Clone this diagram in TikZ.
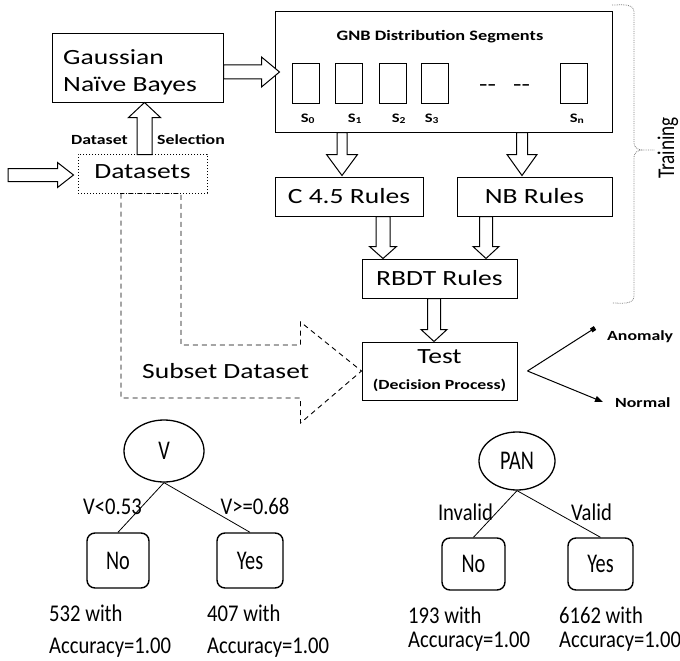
\documentclass[tikz,border=0pt]{standalone}
\usepackage{fontspec}
\setmainfont{Carlito}
\newfontfamily\topf[FakeStretch=1.27]{Carlito}
\newfontfamily\treef[FakeStretch=0.75]{Carlito}
\newfontfamily\treelab[FakeStretch=0.86]{Carlito}
\newfontfamily\trainf[FakeStretch=0.8]{Carlito}
\usetikzlibrary{calc,arrows.meta,shapes.geometric}
\tikzset{
  box/.style={draw, line width=1pt, inner sep=0pt, font=\topf\fontsize{21.7}{26}\selectfont},
  bigtxt/.style={inner sep=0pt, font=\topf\fontsize{21.7}{28}\selectfont},
  smallbold/.style={inner sep=0pt, font=\topf\bfseries\fontsize{14}{17}\selectfont},
  seg/.style={draw, line width=1pt, minimum width=27, minimum height=39, inner sep=0pt},
  seglab/.style={inner sep=0pt, anchor=base, font=\topf\bfseries\fontsize{13}{15}\selectfont},
  blk/.style={draw, line width=1pt, fill=white, line join=miter},
  downblk/.style n args={3}{to path={let \p1=(\tikztostart), \p2=(\tikztotarget) in
    (\x1-#1,\y1) -- (\x1-#1,\y2+#3) -- (\x1-#2,\y2+#3) -- (\x1,\y2) -- (\x1+#2,\y2+#3) -- (\x1+#1,\y2+#3) -- (\x1+#1,\y1) -- cycle}},
  upblk/.style n args={3}{to path={let \p1=(\tikztostart), \p2=(\tikztotarget) in
    (\x1-#1,\y1) -- (\x1-#1,\y2-#3) -- (\x1-#2,\y2-#3) -- (\x1,\y2) -- (\x1+#2,\y2-#3) -- (\x1+#1,\y2-#3) -- (\x1+#1,\y1) -- cycle}},
  rightblk/.style n args={3}{to path={let \p1=(\tikztostart), \p2=(\tikztotarget) in
    (\x1,\y1+#1) -- (\x2-#3,\y1+#1) -- (\x2-#3,\y1+#2) -- (\x2,\y1) -- (\x2-#3,\y1-#2) -- (\x2-#3,\y1-#1) -- (\x1,\y1-#1) -- cycle}},
  treetxt/.style={inner sep=0pt, font=\treelab\fontsize{24}{26}\selectfont},
  leaf/.style={draw, line width=1.4pt, rounded corners=8pt, inner sep=0pt, font=\treef\fontsize{27}{30}\selectfont},
  oval/.style={draw, ellipse, line width=1.3pt, inner sep=0pt, font=\treef\fontsize{27}{30}\selectfont},
  edge/.style={line width=0.8pt},
}
\begin{document}
\begin{tikzpicture}[x=1pt,y=-1pt]
\useasboundingbox (0,0) rectangle (680,661);
% ---- top part
\node[box, minimum width=171, minimum height=68] (gnb) at (137.5,68) {};
\node[bigtxt, anchor=base west] (gnbt1) at (63,64) {Gaussian};
\node[bigtxt, anchor=base west] (gnbt2) at (63,92) {Naïve Bayes};

\node[box, dotted, minimum width=129, minimum height=39, text depth=3pt] (ds) at (142.5,173.5) {Datasets};

\node[box, minimum width=337, minimum height=120] (dist) at (443.5,72) {};
\node[smallbold, anchor=base, font=\topf\bfseries\fontsize{14.4}{17}\selectfont] (title) at (440,41) {GNB Distribution Segments};
\node[seg] (s0) at (305.5,83.5) {};
\node[seg] (s1) at (349,83.5) {};
\node[seg] (s2) at (392.5,83.5) {};
\node[seg] (s3) at (435,83.5) {};
\node[seg] (sn) at (573.5,83.5) {};
\node[seglab] (l0) at (308,122) {S\textsubscript{0}};
\node[seglab] (l1) at (355,122) {S\textsubscript{1}};
\node[seglab] (l2) at (399,122) {S\textsubscript{2}};
\node[seglab] (l3) at (432,122) {S\textsubscript{3}};
\node[seglab] (ln) at (577,122) {S\textsubscript{n}};
\node[bigtxt, anchor=base] (d1) at (487.5,91.5) {-{}-};
\node[bigtxt, anchor=base] (d2) at (521.5,91.5) {-{}-};

\node[box, minimum width=148, minimum height=39] (c45) at (349,196.5) {C 4.5 Rules};
\node[box, minimum width=155, minimum height=39] (nb) at (534.5,196.5) {NB Rules};
\node[box, minimum width=155, minimum height=39] (rbdt) at (439.5,278.5) {RBDT Rules};
\node[box, minimum width=155, minimum height=58, align=center] (test) at (439.5,371)
  {\fontsize{21.7}{19}\selectfont Test\\\fontsize{14}{19}\selectfont\bfseries (Decision Process)};

\node[smallbold, anchor=base east] (dsel1) at (128,144) {Dataset};
\node[smallbold, anchor=base west] (dsel2) at (157,144) {Selection};

% block arrows
\coordinate (inp) at (8,175);
\draw[blk] (inp) to[rightblk={6.5pt}{12.5pt}{16pt}] ($(ds.west)+(-4,0)$);
\draw[blk] ($(gnb.east)+(0,4)$) to[rightblk={7pt}{15pt}{18pt}] ($(dist.west)+(5,0)$);
\draw[blk] ($(ds.north)+(2,1)$) to[upblk={7.5pt}{16pt}{15pt}] (gnb.south);
\draw[blk] ($(dist.south)+(-101.5,0)$) to[downblk={5pt}{15.5pt}{21pt}] ($(c45.north)+(0,-1)$);
\draw[blk] ($(dist.south)+(78.5,0)$) to[downblk={5.5pt}{15pt}{21pt}] ($(nb.north)+(0,-1)$);
\draw[blk] ($(c45.south)+(34,0)$) to[downblk={7pt}{13.5pt}{12pt}] (rbdt.north);
\draw[blk] ($(nb.south)+(-48.5,0)$) to[downblk={6.5pt}{13pt}{12pt}] (rbdt.north);
\draw[blk] ($(rbdt.south)+(-5.5,0)$) to[downblk={6.5pt}{13pt}{12pt}] (test.north);

% dashed subset arrow
\draw[line width=0.9pt, dash pattern=on 5pt off 4pt]
  let \p1=(ds.south), \p2=(test.west) in
  (\x1-21.5pt,\y1) -- (\x1-21.5pt,\y2-27pt) -- (\x2-61pt,\y2-27pt) -- (\x2-61pt,\y2-52pt)
  -- (\x2,\y2) -- (\x2-61pt,\y2+49pt) -- (\x2-61pt,\y2+26pt) -- (\x1+38.5pt,\y2+26pt)
  -- (\x1+38.5pt,\y1) -- cycle;
\node[bigtxt, anchor=base west] (subset) at (142,378) {Subset Dataset};

% outputs
\coordinate (split) at ($(test.east)+(10,0)$);
\coordinate (anomtip) at (595,328);
\coordinate (normtip) at (603,402);
\draw[line width=1pt, -{Square[length=4.5pt,width=4.5pt]}] (split) -- (anomtip);
\draw[line width=1pt, -{Triangle[length=8pt,width=6pt]}] (split) -- (normtip);
\node[smallbold, anchor=base west] (anom) at (607,340) {Anomaly};
\node[smallbold, anchor=base west] (norm) at (615,407) {Normal};

% training brace
\draw[gray, densely dotted, line width=0.8pt]
  (612,5) to[out=0,in=90] (634,12) -- (634,143) to[out=-90,in=180] (642,150) -- (655,150)
  (642,150) to[out=180,in=90] (634,157) -- (634,296) to[out=-90,in=0] (612,303);
\node[rotate=90, anchor=base, inner sep=0pt, font=\trainf\fontsize{24}{26}\selectfont] (train) at (674,148) {Training};

% ---- trees
\node[oval, minimum width=80, minimum height=62] (v) at (164,451) {V};
\node[leaf, minimum width=62, minimum height=55] (no1) at (118,560.5) {No};
\node[leaf, minimum width=66, minimum height=55] (yes1) at (250,560.5) {Yes};
\draw[edge] (v.south) -- (no1.north);
\draw[edge] (v.south) -- (yes1.north);
\node[treetxt, anchor=base] (vl) at (112.5,514) {V<0.53};
\node[treetxt, anchor=base] (vr) at (255,514) {V>=0.68};
\node[treetxt, anchor=base west] (a1) at (49,621) {532 with};
\node[treetxt, anchor=base west] (a2) at (49,653) {Accuracy=1.00};
\node[treetxt, anchor=base west] (a3) at (207,621) {407 with};
\node[treetxt, anchor=base west] (a4) at (207,653) {Accuracy=1.00};

\node[oval, minimum width=76, minimum height=58] (pan) at (517,461) {PAN};
\node[leaf, minimum width=63, minimum height=52] (no2) at (473.5,564) {No};
\node[leaf, minimum width=65, minimum height=52] (yes2) at (600.5,564) {Yes};
\draw[edge] (pan.south) -- (no2.north);
\draw[edge] (pan.south) -- (yes2.north);
\node[treetxt, anchor=base] (pl) at (465.5,520) {Invalid};
\node[treetxt, anchor=base] (pr) at (591.5,520) {Valid};
\node[treetxt, anchor=base west] (b1) at (408,623) {193 with};
\node[treetxt, anchor=base west] (b2) at (408,647) {Accuracy=1.00};
\node[treetxt, anchor=base west] (b3) at (559,623) {6162 with};
\node[treetxt, anchor=base west] (b4) at (559,647) {Accuracy=1.00};
\end{tikzpicture}
\end{document}
